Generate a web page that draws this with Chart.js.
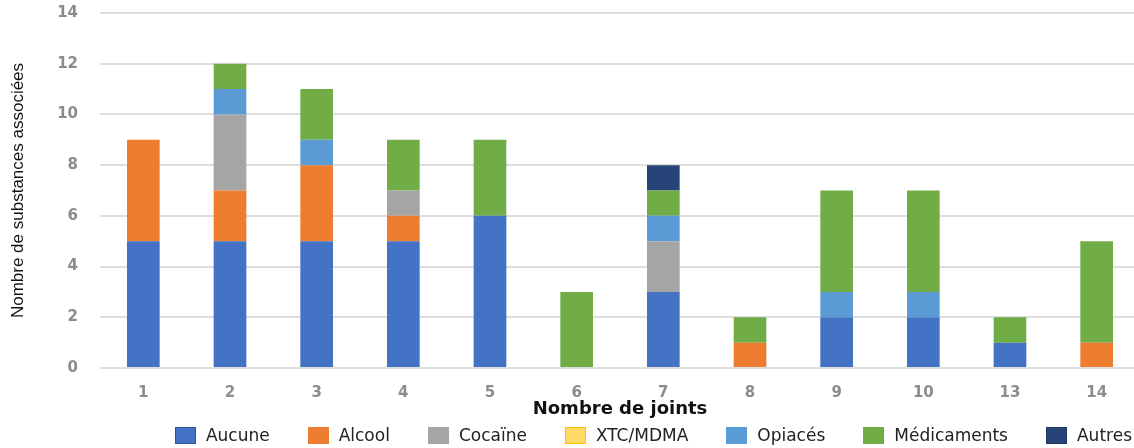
<!DOCTYPE html>
<html>
<head>
<meta charset="utf-8">
<script src="https://cdn.jsdelivr.net/npm/chart.js@4"></script>
<style>
  html, body { margin: 0; padding: 0; background: #fff; overflow: hidden; }
  #wrap { position: relative; width: 1140px; height: 448px; }
  #legend {
    position: absolute; top: 425px; right: 8px;
    display: flex; align-items: center; gap: 38px;
    font-family: "DejaVu Sans", sans-serif; font-size: 17px; color: #222;
  }
  #legend .item { display: flex; align-items: center; }
  #legend .box { width: 19px; height: 15px; margin-right: 10px; border: 1px solid transparent; }
</style>
</head>
<body>
<div id="wrap">
  <canvas id="chart" width="1140" height="448"></canvas>
  <div id="legend"></div>
</div>
<script>
const categories = ["1", "2", "3", "4", "5", "6", "7", "8", "9", "10", "13", "14"];
const aucune      = [5, 5, 5, 5, 6, 0, 3, 0, 2, 2, 1, 0];
const alcool      = [4, 2, 3, 1, 0, 0, 0, 1, 0, 0, 0, 1];
const cocaine     = [0, 3, 0, 1, 0, 0, 2, 0, 0, 0, 0, 0];
const xtcMdma     = [0, 0, 0, 0, 0, 0, 0, 0, 0, 0, 0, 0];
const opiaces     = [0, 1, 1, 0, 0, 0, 1, 0, 1, 1, 0, 0];
const medicaments = [0, 1, 2, 2, 3, 3, 1, 1, 4, 4, 1, 4];
const autres      = [0, 0, 0, 0, 0, 0, 1, 0, 0, 0, 0, 0];

const seriesNames = ["Aucune", "Alcool", "Cocaïne", "XTC/MDMA", "Opiacés", "Médicaments", "Autres"];
const seriesData = [aucune, alcool, cocaine, xtcMdma, opiaces, medicaments, autres];
const seriesColors = ["#4472C4", "#ED7D31", "#A5A5A5", "#FFD966", "#5B9BD5", "#70AD47", "#264478"];
const legendBorders = ["#2F5597", "#ED7D31", "#A5A5A5", "#FFC000", "#5B9BD5", "#70AD47", "#1F3864"];

const datasets = seriesNames.map((name, i) => ({
  label: name,
  data: seriesData[i],
  backgroundColor: seriesColors[i],
  borderWidth: 0,
  barPercentage: 0.377,
  categoryPercentage: 1,
}));

const tickFont = { family: "DejaVu Sans", size: 15, weight: "bold" };

new Chart(document.getElementById("chart"), {
  type: "bar",
  data: { labels: categories, datasets },
  options: {
    responsive: false,
    animation: false,
    layout: { padding: { left: 0, right: 0, top: 13, bottom: 28 } },
    plugins: { legend: { display: false }, tooltip: { enabled: false } },
    scales: {
      x: {
        stacked: true,
        grid: { display: false },
        border: { display: false },
        ticks: { color: "#8c8c8c", font: tickFont, padding: 8 },
        title: {
          display: true,
          text: "Nombre de joints",
          color: "#111",
          font: { family: "DejaVu Sans", size: 18, weight: "bold" },
          padding: { top: 0, bottom: 0 },
        },
        afterFit: (scale) => { scale.height = 52; },
      },
      y: {
        stacked: true,
        min: 0,
        max: 14,
        ticks: { stepSize: 2, color: "#8c8c8c", font: tickFont, padding: 22 },
        grid: { color: "#dedede", lineWidth: 2, drawTicks: false },
        border: { display: false },
        title: {
          display: true,
          text: "Nombre de substances associées",
          color: "#111",
          font: { family: "Liberation Sans", size: 17 },
          padding: { top: 8, bottom: 0 },
        },
        afterFit: (scale) => {
          scale.width = 100;
          scale.paddingTop = 0;
          scale.paddingBottom = 0;
        },
      },
    },
  },
});

const legendEl = document.getElementById("legend");
seriesNames.forEach((name, i) => {
  const item = document.createElement("div");
  item.className = "item";
  const box = document.createElement("span");
  box.className = "box";
  box.style.background = seriesColors[i];
  box.style.borderColor = legendBorders[i];
  const text = document.createElement("span");
  text.textContent = name;
  item.appendChild(box);
  item.appendChild(text);
  legendEl.appendChild(item);
});
</script>
</body>
</html>
